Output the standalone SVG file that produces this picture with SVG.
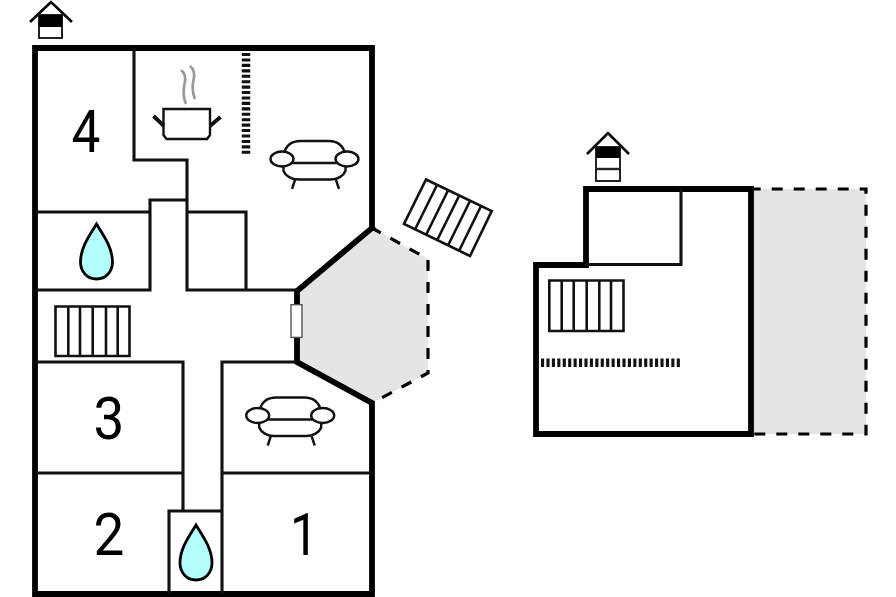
<svg xmlns="http://www.w3.org/2000/svg" width="896" height="597" viewBox="0 0 896 597">
<defs>
<style>
.w{fill:none;stroke:#000;stroke-width:5.8;stroke-linecap:square;stroke-linejoin:miter}
.t{fill:none;stroke:#111;stroke-width:3.1;stroke-linecap:square;stroke-linejoin:miter}
.st{fill:none;stroke:#111;stroke-width:2.6;stroke-linecap:butt;stroke-linejoin:miter}
.d{fill:none;stroke:#000;stroke-width:3.2;stroke-dasharray:11 11}
.g{fill:#e5e5e5;stroke:none}
.s{fill:#fff;stroke:#111;stroke-width:2.4}
.n{font-family:Roboto,"Liberation Sans",Arial,sans-serif;font-size:59px;fill:#000;text-anchor:middle}
.drop{fill:#b3ffff;stroke:#000;stroke-width:2.8}
.v{fill:none;stroke:#111;stroke-width:8.5;stroke-dasharray:3.1 2.33}
</style>
<g id="sofa">
<path class="s" d="M-31 -4C-29 -13 -23 -18 -14 -18H14C23 -18 29 -13 31 -4V12C29 17 23 20.5 16 20.5H-16C-23 20.5 -29 17 -31 12Z"/>
<line x1="-22" y1="4" x2="22" y2="4" stroke="#111" stroke-width="2.4"/>
<ellipse class="s" cx="-32.5" cy="0" rx="11.5" ry="7.5"/>
<ellipse class="s" cx="32.5" cy="0" rx="11.5" ry="7.5"/>
<path d="M-19.5 21L-22.5 30M21.5 21L24.5 30" stroke="#111" stroke-width="2.4" fill="none"/>
</g>
<path id="dropshape" class="drop" d="M0 0C6 10 16 23 16 38C16 48 9 55 0 55C-9 55 -16 48 -16 38C-16 23 -6 10 0 0Z"/>
</defs>
<rect width="896" height="597" fill="#fff"/>

<g id="terraces">
<path class="g" d="M298 291L372 228L428 259V373L372 403L298 362Z"/>
<rect class="g" x="752" y="189" width="114" height="245"/>
</g>

<g id="connectors">
<path class="d" stroke-dashoffset="1" d="M372 228L428 259V373L372 403"/>
<path class="d" d="M749.7 189H866V434H752"/>
</g>

<g id="house-left">
<path class="w" d="M372 228V48H35V594H372V403L297 362V291L372 228"/>
<path class="t" d="M134 49V160H187V290M187 200H150V290H37M37 212H150M187 212H246V290M187 290H296"/>
<path class="t" d="M37 362H183V510M183 473H37M296 362H222V592M222 473H371M169 511H222M169 511V592"/>
</g>

<g id="house-right">
<path class="w" d="M536 434V265H586V189H751V434Z"/>
<path class="t" d="M586 264.5H681V190"/>
</g>

<g id="n4"><text class="n" transform="translate(86 152) scale(.87 1)">4</text></g>
<g id="n3"><text class="n" transform="translate(109 439) scale(.93 1)">3</text></g>
<g id="n2"><text class="n" transform="translate(109 555) scale(.93 1)">2</text></g>
<g id="n1"><text class="n" transform="translate(304 555) scale(.85 1)">1</text></g>

<g id="bath1"><use href="#dropshape" x="96.5" y="224"/></g>
<g id="bath2"><use href="#dropshape" x="196" y="525"/></g>

<g id="pot">
<path d="M163.5 109H210V135L207 139H166.5L163.5 135Z" fill="#fff" stroke="#111" stroke-width="2.4"/>
<path d="M164 126L153.5 116M210 126L220.5 117" stroke="#111" stroke-width="3.8" fill="none"/>
<path d="M181 70C185 73 186 78 184.5 84C183 91 183.5 98 186 104M190 66C194 69 195 74 193.5 80C192 87 192.5 93 195 99" stroke="#999" stroke-width="2.7" fill="none"/>
</g>

<g id="vents">
<line class="v" x1="246" y1="53" x2="246" y2="156"/>
<line class="v" x1="541" y1="362.7" x2="681" y2="362.7"/>
</g>

<g id="sofa1"><use href="#sofa" x="314.5" y="159"/></g>
<g id="sofa2"><use href="#sofa" x="290.2" y="415.5"/></g>

<g id="door"><rect x="291" y="304.7" width="11" height="32.7" fill="#fff" stroke="#555" stroke-width="1.4"/></g>

<g id="stairs-a">
<path class="st" d="M55.5 306.5H129.5V356H55.5ZM68.3 306.5V356M80 306.5V356M92.7 306.5V356M106 306.5V356M117.7 306.5V356"/>
</g>
<g id="stairs-b">
<path class="st" d="M549.3 280.5H623.5V331H549.3ZM561.7 280.5V331M573.7 280.5V331M586.7 280.5V331M599.3 280.5V331M611 280.5V331"/>
</g>
<g id="stairs-c">
<path class="st" d="M426 179.5L491.7 211L470 256L404 224ZM437 185L415 229.5M448 190.5L426 235M459 196L437 240.5M470 201L448 245.5M481 206L459 251"/>
</g>

<g id="chimney-left">
<path d="M30 22L51 2L72 22" fill="none" stroke="#000" stroke-width="2.6"/>
<rect x="39" y="15" width="23" height="23" fill="#fff" stroke="#222" stroke-width="2"/>
<rect x="39" y="15" width="23" height="12" fill="#000"/>
</g>
<g id="chimney-right">
<path d="M587 154L608 133L629 154" fill="none" stroke="#000" stroke-width="2.6"/>
<rect x="596" y="147" width="24" height="34" fill="#fff" stroke="#222" stroke-width="2"/>
<rect x="596" y="147" width="24" height="11" fill="#000"/>
<line x1="596" y1="169" x2="620" y2="169" stroke="#222" stroke-width="2.4"/>
</g>
</svg>
